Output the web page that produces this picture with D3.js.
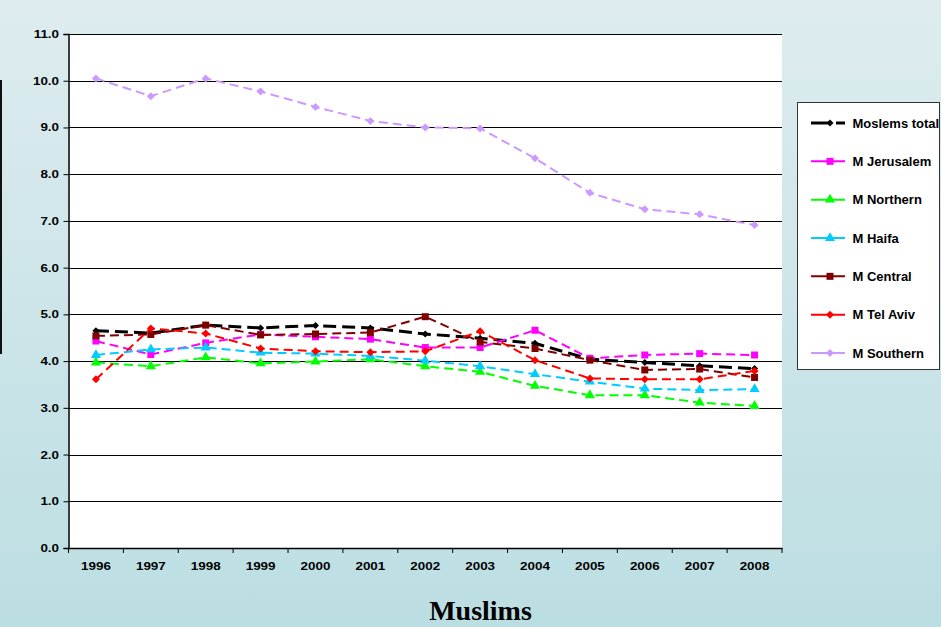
<!DOCTYPE html>
<html><head><meta charset="utf-8">
<script src="https://cdn.jsdelivr.net/npm/d3@7"></script>
<style>html,body{margin:0;padding:0;overflow:hidden}svg{display:block}</style>
</head><body>
<script>
const years = ["1996","1997","1998","1999","2000","2001","2002","2003","2004","2005","2006","2007","2008"];
const yTicks = [0,1,2,3,4,5,6,7,8,9,10,11];
const moslemsTotal = [4.65,4.60,4.77,4.71,4.76,4.71,4.58,4.49,4.38,4.04,3.97,3.90,3.84];
const mJerusalem   = [4.43,4.14,4.39,4.57,4.52,4.47,4.29,4.29,4.66,4.06,4.13,4.16,4.13];
const mNorthern    = [3.97,3.89,4.08,3.95,3.99,4.04,3.89,3.77,3.47,3.27,3.27,3.11,3.04];
const mHaifa       = [4.13,4.25,4.29,4.18,4.16,4.11,4.01,3.89,3.72,3.56,3.41,3.38,3.40];
const mCentral     = [4.54,4.57,4.77,4.56,4.58,4.61,4.95,4.41,4.27,4.02,3.81,3.83,3.65];
const mTelAviv     = [3.61,4.70,4.59,4.27,4.21,4.19,4.21,4.64,4.02,3.63,3.61,3.61,3.79];
const mSouthern    = [10.05,9.67,10.05,9.77,9.44,9.14,9.00,8.98,8.34,7.60,7.25,7.14,6.91];
const seriesNames  = ["Moslems total","M Jerusalem","M Northern","M Haifa","M Central","M Tel Aviv","M Southern"];

const series = [
  {name:seriesNames[0], values:moslemsTotal, color:"#000000", marker:"diamond", w:3, dash:"13,6", ms:7},
  {name:seriesNames[1], values:mJerusalem, color:"#ff00ff", marker:"square", w:2, dash:"9,5", ms:7},
  {name:seriesNames[2], values:mNorthern, color:"#00ff00", marker:"triangle", w:2, dash:"9,5", ms:8},
  {name:seriesNames[3], values:mHaifa, color:"#00ccff", marker:"triangle", w:2, dash:"9,5", ms:8},
  {name:seriesNames[4], values:mCentral, color:"#800000", marker:"square", w:2, dash:"9,5", ms:7},
  {name:seriesNames[5], values:mTelAviv, color:"#ff0000", marker:"diamond", w:2, dash:"9,5", ms:8},
  {name:seriesNames[6], values:mSouthern, color:"#cc99ff", marker:"diamond", w:2, dash:"9,5", ms:8}
];

const W = 941, H = 627;
const FONT = "Liberation Sans, Arial, sans-serif";
const svg = d3.select("body").append("svg").attr("width", W).attr("height", H);
const defs = svg.append("defs");
const grad = defs.append("linearGradient").attr("id","bg").attr("x1",0).attr("y1",0).attr("x2",0).attr("y2",1);
grad.append("stop").attr("offset","0%").attr("stop-color","#deecef");
grad.append("stop").attr("offset","100%").attr("stop-color","#bbdee2");
svg.append("rect").attr("width",W).attr("height",H).attr("fill","url(#bg)");
svg.append("rect").attr("x",0).attr("y",80).attr("width",2).attr("height",274).attr("fill","#111");

const L = 68.5, R = 782, T = 34, B = 548;
const x = d3.scaleBand().domain(years).range([L, R]);
const y = d3.scaleLinear().domain([0, 11]).range([B, T]);

svg.append("rect").attr("x",L).attr("y",T).attr("width",R-L).attr("height",B-T).attr("fill","#fff");

// grid
svg.append("g").selectAll("line").data(yTicks.filter(d=>d>0)).join("line")
  .attr("x1",L).attr("x2",R).attr("y1",d=>Math.round(y(d))+0.5).attr("y2",d=>Math.round(y(d))+0.5)
  .attr("stroke","#000").attr("stroke-width",1);

const SX = 1.22;
// y axis
const yAxis = d3.axisLeft(y).tickValues(yTicks).tickFormat(d3.format(".1f")).tickSize(5).tickPadding(4);
const gy = svg.append("g").attr("transform",`translate(${L},0)`).call(yAxis);
gy.select(".domain").attr("stroke","#000").attr("stroke-width",1.5);
gy.selectAll(".tick line").attr("stroke","#000");
gy.selectAll("text").attr("font-family",FONT).attr("font-weight","bold").attr("font-size","11px").attr("fill","#000")
  .attr("x", -9.5/SX).attr("transform",`scale(${SX},1)`);

// x axis
const xAxis = d3.axisBottom(x).tickSize(0).tickPadding(14);
const gx = svg.append("g").attr("transform",`translate(0,${B})`).call(xAxis);
gx.select(".domain").attr("stroke","#000").attr("stroke-width",1.5);
gx.selectAll("text").attr("font-family",FONT).attr("font-weight","bold").attr("font-size","11px").attr("fill","#000")
  .attr("transform",`scale(${SX},1)`);
gx.append("g").selectAll("line").data(years.concat(["end"])).join("line")
  .attr("x1",(d,i)=> L + i*x.step()).attr("x2",(d,i)=> L + i*x.step())
  .attr("y1",0).attr("y2",5).attr("stroke","#000");

function drawMarker(g, type, s, color){
  let p;
  if(type==="diamond") p = g.append("path").attr("d", d3.symbol(d3.symbolSquare, s*s*0.5)()).attr("transform","rotate(45)");
  else if(type==="square") p = g.append("path").attr("d", d3.symbol(d3.symbolSquare, s*s)());
  else p = g.append("path").attr("d", d3.symbol(d3.symbolTriangle, s*s*0.7)());
  p.attr("fill",color);
}

const cx = d => x(d) + x.bandwidth()/2;
const line = d3.line().x((d,i)=>cx(years[i])).y(d=>y(d));

series.forEach(s=>{
  const g = svg.append("g");
  g.append("path").datum(s.values).attr("d",line).attr("fill","none")
    .attr("stroke",s.color).attr("stroke-width",s.w).attr("stroke-dasharray",s.dash);
  s.values.forEach((v,i)=>{
    const mg = g.append("g").attr("transform",`translate(${cx(years[i])},${y(v)})`);
    drawMarker(mg, s.marker, s.ms, s.color);
  });
});

// legend
const lg = svg.append("g");
lg.append("rect").attr("x",797.5).attr("y",102.5).attr("width",142).attr("height",267)
  .attr("fill","#fff").attr("stroke","#333").attr("stroke-width",1);
const legendY = d3.scalePoint().domain(seriesNames).range([123, 353]);
series.forEach(s=>{
  const yy = legendY(s.name);
  const g = lg.append("g");
  if(s.name==="Moslems total"){
    g.append("line").attr("x1",811).attr("x2",830).attr("y1",yy).attr("y2",yy).attr("stroke",s.color).attr("stroke-width",s.w);
    g.append("line").attr("x1",836).attr("x2",845).attr("y1",yy).attr("y2",yy).attr("stroke",s.color).attr("stroke-width",s.w);
  } else {
    g.append("line").attr("x1",811).attr("x2",845).attr("y1",yy).attr("y2",yy).attr("stroke",s.color).attr("stroke-width",s.w);
  }
  const mg = g.append("g").attr("transform",`translate(830,${yy})`);
  drawMarker(mg, s.marker, s.ms, s.color);
  g.append("text").attr("x",852.5).attr("y",yy).attr("dy","0.36em")
    .attr("font-family",FONT).attr("font-weight","bold").attr("font-size","13px")
    .attr("fill","#000").text(s.name);
});

svg.append("text").attr("x",480.5).attr("y",620).attr("text-anchor","middle")
  .attr("font-family","Liberation Serif, 'Times New Roman', serif").attr("font-weight","bold").attr("font-size","28px")
  .attr("fill","#000").text("Muslims");
</script>
</body></html>
